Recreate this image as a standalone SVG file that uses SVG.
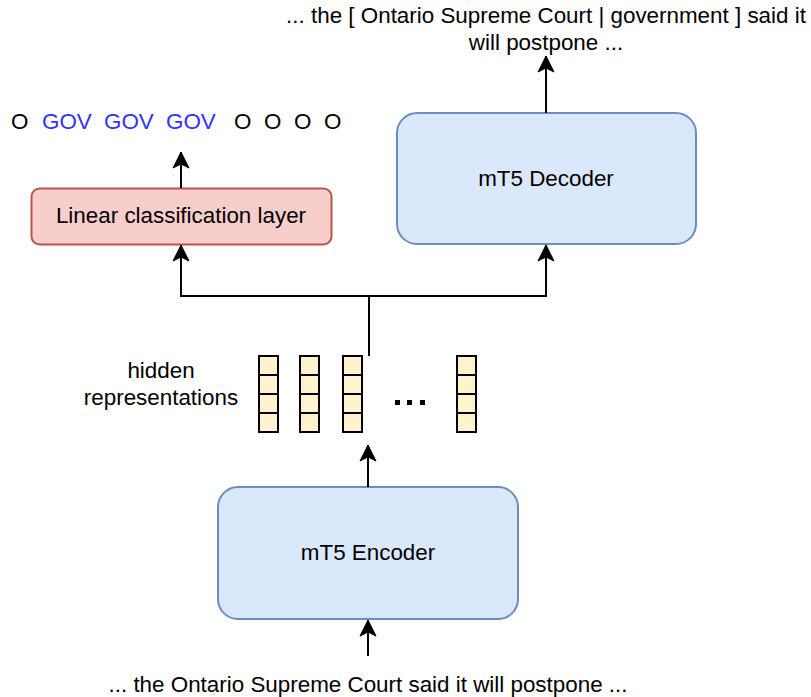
<svg xmlns="http://www.w3.org/2000/svg" width="811" height="697" viewBox="0 0 811 697">
  <defs>
    <marker id="arrow" markerUnits="userSpaceOnUse" markerWidth="20" markerHeight="20" viewBox="-18 -10 20 20" refX="0" refY="0" orient="auto">
      <path d="M0,0 L-16,-8 L-12,0 L-16,8 Z" fill="#000" stroke="#000" stroke-width="1"/>
    </marker>
  </defs>
  <style>
    text { font-family: "Liberation Sans", Arial, Helvetica, sans-serif; font-size: 22.4px; fill: #000; }
    .mid { text-anchor: middle; }
    .tag { fill: #3333ff; }
    .model { fill: #dae8fc; stroke: #6c8ebf; stroke-width: 2; }
    .cls { fill: #f8cecc; stroke: #b85450; stroke-width: 2; }
    .cell { fill: #fff2cc; stroke: #000; stroke-width: 2; }
    .edge { fill: none; stroke: #000; stroke-width: 2; }
  </style>
  <rect width="811" height="697" fill="#fff"/>

  <!-- generated output sentence -->
  <g id="decoder-output">
    <text class="mid" x="546" y="23">... the [ Ontario Supreme Court | government ] said it</text>
    <text class="mid" x="546" y="50">will postpone ...</text>
  </g>

  <!-- token tags -->
  <g id="tag-sequence">
    <text x="11" y="129">O</text>
    <text class="tag" x="42" y="129">GOV</text>
    <text class="tag" x="104" y="129">GOV</text>
    <text class="tag" x="166" y="129">GOV</text>
    <text x="234" y="129">O</text>
    <text x="264" y="129">O</text>
    <text x="294" y="129">O</text>
    <text x="324" y="129">O</text>
  </g>

  <g id="decoder">
    <rect class="model" x="397" y="113" width="299" height="131" rx="20" ry="20"/>
    <text class="mid" x="546" y="186">mT5 Decoder</text>
  </g>

  <g id="classifier">
    <rect class="cls" x="31.5" y="188.5" width="300" height="56" rx="8" ry="8"/>
    <text class="mid" x="181" y="223">Linear classification layer</text>
  </g>

  <g id="hidden-label">
    <text class="mid" x="161" y="378">hidden</text>
    <text class="mid" x="161" y="405">representations</text>
  </g>

  <!-- hidden state vectors -->
  <g id="hidden-states">
    <g id="vec1">
      <rect class="cell" x="259" y="356" width="19" height="19"/>
      <rect class="cell" x="259" y="375" width="19" height="19"/>
      <rect class="cell" x="259" y="394" width="19" height="19"/>
      <rect class="cell" x="259" y="413" width="19" height="19"/>
    </g>
    <g id="vec2">
      <rect class="cell" x="300" y="356" width="19" height="19"/>
      <rect class="cell" x="300" y="375" width="19" height="19"/>
      <rect class="cell" x="300" y="394" width="19" height="19"/>
      <rect class="cell" x="300" y="413" width="19" height="19"/>
    </g>
    <g id="vec3">
      <rect class="cell" x="343" y="356" width="19" height="19"/>
      <rect class="cell" x="343" y="375" width="19" height="19"/>
      <rect class="cell" x="343" y="394" width="19" height="19"/>
      <rect class="cell" x="343" y="413" width="19" height="19"/>
    </g>
    <g id="ellipsis">
      <rect x="395" y="400" width="5" height="5" fill="#000"/>
      <rect x="407" y="400" width="5" height="5" fill="#000"/>
      <rect x="420" y="400" width="5" height="5" fill="#000"/>
    </g>
    <g id="vecN">
      <rect class="cell" x="457" y="356" width="19" height="19"/>
      <rect class="cell" x="457" y="375" width="19" height="19"/>
      <rect class="cell" x="457" y="394" width="19" height="19"/>
      <rect class="cell" x="457" y="413" width="19" height="19"/>
    </g>
  </g>

  <g id="encoder">
    <rect class="model" x="218" y="487" width="300" height="132" rx="20" ry="20"/>
    <text class="mid" x="368" y="560">mT5 Encoder</text>
  </g>

  <g id="encoder-input">
    <text class="mid" x="368" y="692">... the Ontario Supreme Court said it will postpone ...</text>
  </g>

  <!-- connectors -->
  <g id="connectors">
    <path class="edge" d="M368,656 L368,620" marker-end="url(#arrow)"/>
    <path class="edge" d="M368,487 L368,445" marker-end="url(#arrow)"/>
    <path class="edge" d="M369,356 L369,296 L181,296 L181,245" marker-end="url(#arrow)"/>
    <path class="edge" d="M369,296 L546,296 L546,245" marker-end="url(#arrow)"/>
    <path class="edge" d="M181,188 L181,152" marker-end="url(#arrow)"/>
    <path class="edge" d="M546,113 L546,56" marker-end="url(#arrow)"/>
  </g>
</svg>
